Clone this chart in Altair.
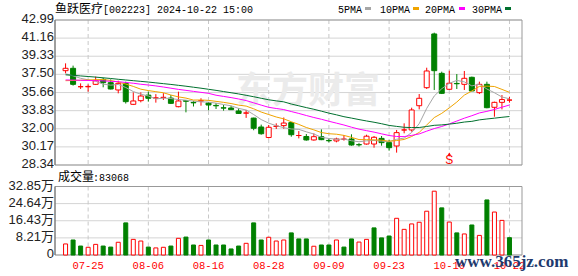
import altair as alt
import pandas as pd
import numpy as np

# ---------------- data ----------------
dates = ["07-22","07-23","07-24","07-25","07-26","07-29","07-30","07-31","08-01","08-02",
         "08-05","08-06","08-07","08-08","08-09","08-12","08-13","08-14","08-15","08-16",
         "08-19","08-20","08-21","08-22","08-23","08-26","08-27","08-28","08-29","08-30",
         "09-02","09-03","09-04","09-05","09-06","09-09","09-10","09-11","09-12","09-13",
         "09-18","09-19","09-20","09-23","09-24","09-25","09-26","09-27","09-30","10-08",
         "10-09","10-10","10-11","10-14","10-15","10-16","10-17","10-18","10-21","10-22"]

opens = [37.87,38.11,36.25,36.24,36.49,36.99,36.66,35.92,36.59,34.47,
         34.84,35.40,35.10,35.15,35.10,34.23,34.84,34.66,34.80,34.60,
         34.36,34.12,34.10,33.80,33.58,33.08,32.18,31.12,32.24,32.32,
         32.62,31.32,31.22,30.87,31.20,30.82,30.77,30.95,30.97,30.40,
         30.46,30.46,31.03,30.60,30.26,31.88,31.88,34.33,36.15,41.58,
         37.60,35.99,36.58,36.49,37.20,35.65,36.49,34.17,34.67,34.90]
highs = [38.61,38.38,36.59,36.49,37.27,37.16,36.99,36.86,36.76,35.68,
         35.68,35.75,35.50,35.60,35.41,35.75,34.90,34.82,35.08,34.70,
         34.60,34.40,34.33,34.07,33.90,33.12,32.42,32.38,32.55,33.14,
         32.69,31.77,31.47,31.54,31.94,31.03,31.10,31.37,31.44,30.55,
         31.40,31.27,31.27,30.87,31.88,32.55,34.13,35.51,38.17,41.71,
         37.77,37.87,37.53,37.84,37.27,36.76,36.76,34.74,35.41,35.24]
lows = [37.60,36.36,36.02,35.75,36.42,36.19,35.98,35.58,34.55,34.40,
        34.67,34.74,34.64,34.91,34.50,34.17,33.66,34.25,34.33,33.87,
        34.00,33.83,33.90,33.50,33.10,31.85,31.40,31.03,31.98,32.00,
        31.20,31.03,30.80,30.80,30.85,30.63,30.63,30.80,30.29,30.20,
        30.40,30.09,30.29,29.79,29.59,31.54,31.71,33.96,36.02,35.92,
        35.51,35.92,36.02,35.92,35.82,35.51,34.07,33.22,33.96,34.64]
closes = [38.11,36.49,36.25,36.28,36.86,36.66,36.02,36.59,34.74,34.81,
          35.31,35.08,35.12,35.18,34.57,34.81,34.78,34.62,34.84,34.40,
          34.32,34.09,33.93,33.55,33.60,32.05,31.50,32.15,32.27,32.58,
          31.40,31.32,30.87,31.20,30.90,30.79,30.97,30.95,30.36,30.38,
          31.25,31.14,30.60,30.09,31.61,31.88,33.90,35.08,37.84,37.87,
          35.58,36.60,36.55,37.10,35.82,36.49,34.13,34.67,34.95,34.90]
prev_close = 37.52  # close of the session before the window

# volume in 万手
volumes = [5.3,7.2,4.3,3.7,5.1,4.3,3.8,6.1,15.4,7.5,
           6.7,3.8,3.4,3.7,4.3,8.0,8.6,4.8,4.6,7.2,
           4.8,4.8,2.9,4.3,5.6,15.4,7.2,8.5,6.7,7.2,
           10.6,7.7,7.7,4.2,4.8,4.8,7.2,3.8,7.7,6.2,
           7.5,13.0,8.2,9.1,17.6,12.3,14.9,15.7,21.0,30.6,
           22.6,15.8,10.6,10.1,14.4,9.4,26.4,20.6,16.6,8.3068]

ma5 = [37.55,37.35,37.10,36.95,36.80,36.51,36.41,36.48,36.17,35.76,
       35.49,35.31,35.01,35.10,35.05,34.95,34.89,34.79,34.72,34.69,
       34.59,34.45,34.32,34.06,33.90,33.44,32.93,32.57,32.31,32.11,
       31.98,31.94,31.69,31.47,31.14,31.02,30.95,30.96,30.79,30.69,
       30.78,30.82,30.75,30.69,30.94,31.06,31.62,32.51,34.06,35.31,
       36.05,36.59,36.89,36.74,36.33,36.51,36.02,35.64,35.21,35.03]
ma10 = [36.86,36.88,36.90,36.93,36.96,36.98,36.88,36.72,36.52,36.28,
        36.00,35.86,35.75,35.64,35.41,35.22,35.10,34.90,34.91,34.87,
        34.77,34.67,34.55,34.39,34.29,34.02,33.69,33.44,33.19,33.00,
        32.71,32.44,32.13,31.89,31.62,31.50,31.45,31.33,31.13,30.91,
        30.90,30.88,30.85,30.74,30.81,30.92,31.22,31.63,32.38,33.13,
        33.56,34.11,34.70,35.40,35.82,36.28,36.31,36.27,35.98,35.68]
ma20 = [36.93,36.92,36.90,36.88,36.86,36.84,36.80,36.76,36.68,36.60,
        36.50,36.42,36.33,36.22,36.10,35.98,35.88,35.78,35.68,35.58,
        35.39,35.27,35.15,35.01,34.85,34.62,34.39,34.17,34.05,33.94,
        33.74,33.55,33.34,33.14,32.96,32.76,32.57,32.38,32.16,31.96,
        31.81,31.66,31.49,31.32,31.22,31.21,31.33,31.48,31.76,32.02,
        32.23,32.49,32.78,33.07,33.32,33.60,33.76,33.95,34.18,34.40]
ma30 = [37.45,37.40,37.34,37.28,37.22,37.15,37.08,37.00,36.93,36.86,
        36.79,36.72,36.64,36.56,36.48,36.39,36.30,36.20,36.10,35.99,
        35.88,35.76,35.64,35.52,35.38,35.24,35.08,34.93,34.82,34.72,
        34.50,34.32,34.14,33.97,33.78,33.58,33.41,33.22,33.08,32.93,
        32.79,32.66,32.51,32.34,32.24,32.15,32.12,32.13,32.23,32.35,
        32.39,32.47,32.56,32.68,32.75,32.90,32.99,33.07,33.16,33.24]

ma_names = ["5PMA", "10PMA", "20PMA", "30PMA"]
x_labels = ["07-25","08-06","08-16","08-28","09-09","09-23","10-10","10-22"]
price_ticks = [42.99, 41.16, 39.33, 37.50, 35.66, 33.83, 32.00, 30.17, 28.34]
price_tick_labels = ["42.99","41.16","39.33","37.50","35.66","33.83","32.00","30.17","28.34"]
vol_ticks = [32.85, 24.64, 16.43, 8.21, 0]
vol_tick_labels = ["32.85万","24.64万","16.43万","8.21万","0"]
signal_dates = ["10-10"]
signal_text = ["S"]
title_name = "鱼跃医疗"
title_rest = "[002223] 2024-10-22 15:00"
vol_title = "成交量"
vol_last = ":83068"

# ---------------- styles / layout ----------------
RED = "#ff0000"
GREEN = "#008000"
MA_COLORS = ["#a6a6a6", "#f0a400", "#ff00ff", "#00702e"]
W = 467
LEFT = 55
P_TOP, P_BOT = 20, 165
V_TOP, V_BOT = 186.5, 255
GRID = "#d4d4d4"
BORDER = "#999999"

n = len(closes)
idx = list(range(1, n + 1))
df = pd.DataFrame({"idx": idx, "date": dates, "open": opens, "high": highs,
                   "low": lows, "close": closes, "vol": volumes})
up = np.array(closes) >= np.array(opens)
df["col"] = np.where(up, RED, GREEN)
df["fillc"] = np.where(up, "#ffffff", GREEN)
prevs = np.array([prev_close] + closes[:-1])
vup = np.array(closes) >= prevs
df["vcol"] = np.where(vup, RED, GREEN)
df["vfill"] = np.where(vup, "#ffffff", GREEN)

ma_df = pd.concat([
    pd.DataFrame({"idx": idx, "val": vals, "name": nm, "color": c})
    for vals, nm, c in zip([ma5, ma10, ma20, ma30], ma_names, MA_COLORS)
])

date_to_idx = dict(zip(dates, idx))
xl_df = pd.DataFrame({"idx": [date_to_idx[d] for d in x_labels], "t": x_labels})
sig_df = pd.DataFrame({"idx": [date_to_idx[d] for d in signal_dates], "t": signal_text})
pt_df = pd.DataFrame({"v": price_ticks, "t": price_tick_labels})
vt_df = pd.DataFrame({"v": vol_ticks, "t": vol_tick_labels})
one = pd.DataFrame({"a": [0]})

xscale = alt.Scale(domain=[0.26, 61.0], nice=False, zero=False)
def X(f="idx:Q"):
    return alt.X(f, scale=xscale, axis=None)
pscale = alt.Scale(domain=[28.34, 42.99], range=[P_BOT, P_TOP], nice=False, zero=False)
def PY(f):
    return alt.Y(f, scale=pscale, axis=None)
vscale = alt.Scale(domain=[0, 32.85], range=[V_BOT, V_TOP], nice=False, zero=True)
def VY(f):
    return alt.Y(f, scale=vscale, axis=None)

def px(x):
    return x - LEFT

layers = []

# horizontal grids
layers.append(alt.Chart(pt_df).mark_rule(color=GRID, strokeWidth=1).encode(
    y=PY("v:Q"), x=alt.value(0), x2=alt.value(W)))
layers.append(alt.Chart(vt_df).mark_rule(color=GRID, strokeWidth=1).encode(
    y=VY("v:Q"), x=alt.value(0), x2=alt.value(W)))
# vertical dashed grids
layers.append(alt.Chart(xl_df).mark_rule(color="#c8c8c8", strokeWidth=1, strokeDash=[4, 3]).encode(
    x=X(), y=alt.value(P_TOP), y2=alt.value(P_BOT)))
layers.append(alt.Chart(xl_df).mark_rule(color="#c8c8c8", strokeWidth=1, strokeDash=[4, 3]).encode(
    x=X(), y=alt.value(V_TOP), y2=alt.value(V_BOT)))

# watermark
layers.append(alt.Chart(one).mark_text(text="东方财富", font="Noto Sans CJK SC", fontSize=36,
                                       fontWeight="bold", color="#ebebeb", align="center",
                                       baseline="middle").encode(
    x=alt.value(px(308)), y=alt.value(92)))

# borders
for (t, b) in [(P_TOP, P_BOT), (V_TOP, V_BOT)]:
    layers.append(alt.Chart(one).mark_rect(fill=None, stroke=BORDER, strokeWidth=1).encode(
        x=alt.value(0), x2=alt.value(W), y=alt.value(t), y2=alt.value(b)))
    layers.append(alt.Chart(one).mark_rule(color="#707070", strokeWidth=1).encode(
        x=alt.value(0), y=alt.value(t), y2=alt.value(b)))

# candles
layers.append(alt.Chart(df).mark_rule(strokeWidth=1).encode(
    x=X(), y=PY("low:Q"), y2="high:Q", stroke=alt.Stroke("col:N", scale=None)))
layers.append(alt.Chart(df).mark_bar(size=5, strokeWidth=1).encode(
    x=X(), y=PY("open:Q"), y2="close:Q",
    fill=alt.Fill("fillc:N", scale=None), stroke=alt.Stroke("col:N", scale=None)))

# moving averages
layers.append(alt.Chart(ma_df).mark_line(strokeWidth=1).encode(
    x=X(), y=PY("val:Q"), detail="name:N", stroke=alt.Stroke("color:N", scale=None)))

# volume
layers.append(alt.Chart(df).mark_bar(size=4, strokeWidth=1).encode(
    x=X(), y=VY("vol:Q"),
    fill=alt.Fill("vfill:N", scale=None), stroke=alt.Stroke("vcol:N", scale=None)))

# tick labels
layers.append(alt.Chart(pt_df).mark_text(align="right", baseline="middle", font="Liberation Sans",
                                         fontSize=13, color="#222222", dy=-1).encode(
    x=alt.value(-1), y=PY("v:Q"), text="t:N"))
layers.append(alt.Chart(vt_df).mark_text(align="right", baseline="middle",
                                         font="Liberation Sans, Noto Sans CJK SC",
                                         fontSize=13, color="#222222", dy=-1).encode(
    x=alt.value(-1), y=VY("v:Q"), text="t:N"))
layers.append(alt.Chart(xl_df).mark_text(align="center", baseline="alphabetic",
                                         font="Liberation Mono", fontSize=10.5, color=RED).encode(
    x=X(), y=alt.value(269), text="t:N"))

# header
layers.append(alt.Chart(one).mark_text(text=title_name, font="Noto Sans CJK SC", fontSize=12,
                                       color="#000000", align="left", baseline="alphabetic").encode(
    x=alt.value(px(55)), y=alt.value(13)))
layers.append(alt.Chart(one).mark_text(text=title_rest, font="Liberation Mono", fontSize=10,
                                       color="#000000", align="left", baseline="alphabetic").encode(
    x=alt.value(px(103)), y=alt.value(13)))
leg_text_x = [338, 380, 425, 472]
leg_sq_x = [365, 413, 459, 505]
for nm, c, tx, sx in zip(ma_names, MA_COLORS, leg_text_x, leg_sq_x):
    layers.append(alt.Chart(one).mark_text(text=nm, font="Liberation Mono", fontSize=10,
                                           color="#000000", align="left", baseline="alphabetic").encode(
        x=alt.value(px(tx)), y=alt.value(13)))
    layers.append(alt.Chart(one).mark_rect(color=c).encode(
        x=alt.value(px(sx)), x2=alt.value(px(sx + 6)), y=alt.value(7), y2=alt.value(10)))

# volume title
layers.append(alt.Chart(one).mark_text(text=vol_title, font="Noto Sans CJK SC", fontSize=12,
                                       color="#000000", align="left", baseline="alphabetic").encode(
    x=alt.value(px(58)), y=alt.value(181)))
layers.append(alt.Chart(one).mark_text(text=vol_last, font="Liberation Mono", fontSize=10,
                                       color="#000000", align="left", baseline="alphabetic").encode(
    x=alt.value(px(93)), y=alt.value(181)))

# sell signal
layers.append(alt.Chart(sig_df).mark_point(shape="triangle-up", filled=True, size=14,
                                           color=RED, opacity=1).encode(
    x=X(), y=alt.value(154)))
layers.append(alt.Chart(sig_df).mark_text(font="Liberation Sans", fontSize=12, color=RED,
                                          baseline="middle").encode(
    x=X(), y=alt.value(160), text="t:N"))

# site watermark
layers.append(alt.Chart(one).mark_text(text="www.365jz.com", font="Liberation Serif", fontSize=17,
                                       fontWeight="bold", color="#1e3a6e", align="left",
                                       baseline="alphabetic").encode(
    x=alt.value(px(455)), y=alt.value(267)))

chart = alt.layer(*layers).resolve_scale(y="independent").properties(
    width=W, height=276,
    padding={"left": LEFT, "top": 0, "right": 578 - LEFT - W, "bottom": 0},
    autosize=alt.AutoSizeParams(type="none"),
    background="white",
).configure_view(stroke=None)

chart.save("out.html", embed_options={"renderer": "svg", "actions": False})
